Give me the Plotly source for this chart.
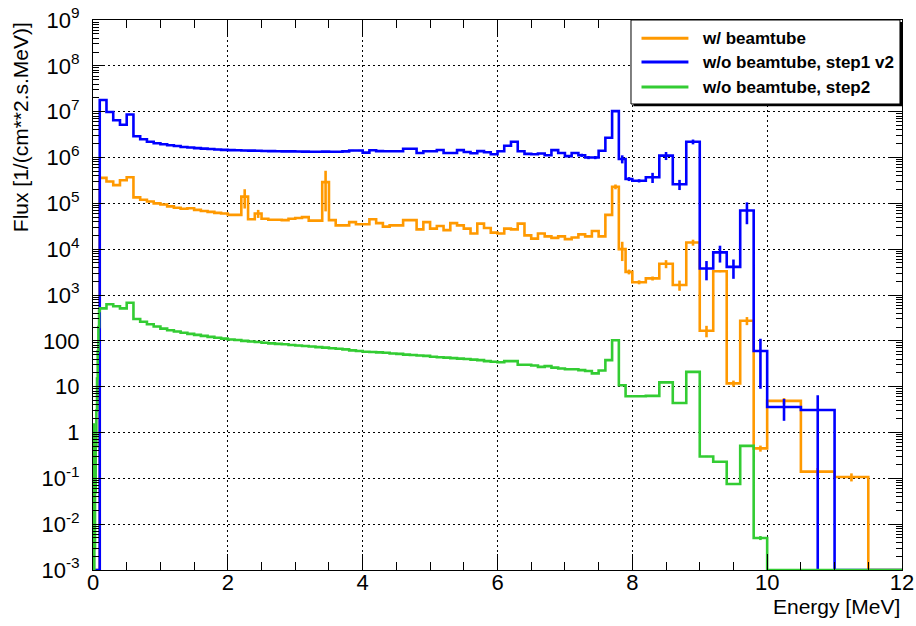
import plotly.graph_objects as go

# ---------------- data ----------------
# bin edges (MeV): fine 0.01 bins up to 0.1, 0.1 bins to 8, 0.2 bins to 10, 0.5 bins to 12
edges_fine = [round(0.01 * i, 2) for i in range(10)]
edges_mid = [round(0.1 + 0.1 * i, 2) for i in range(79)]
edges_coarse = [round(8.0 + 0.2 * i, 2) for i in range(10)]
edges_wide = [10.0, 10.5, 11.0, 11.5, 12.0]
edges = edges_fine + edges_mid + edges_coarse + edges_wide

# w/ beamtube (orange)
orange_fine = [0] * 10
orange_mid = [3.6e5, 3.0e5, 2.5e5, 3.2e5, 3.7e5,
              1.35e5, 1.2e5, 1.1e5, 1.0e5, 9.4e4,
              8.6e4, 8.0e4, 7.6e4, 7.8e4, 7.2e4,
              6.8e4, 6.5e4, 6.2e4, 6.0e4, 5.6e4,
              5.6e4, 1.4e5, 4.5e4, 6.0e4, 4.6e4,
              4.4e4, 4.4e4, 4.3e4, 4.6e4, 4.8e4,
              5.0e4, 4.2e4, 4.2e4, 2.9e5, 4.3e4,
              3.3e4, 3.3e4, 3.9e4, 3.5e4, 3.5e4,
              4.5e4, 3.7e4, 3.1e4, 3.3e4, 3.3e4,
              4.3e4, 4.3e4, 2.7e4, 3.9e4, 2.8e4,
              3.2e4, 2.6e4, 3.7e4, 3.3e4, 2.8e4,
              2.2e4, 3.6e4, 2.9e4, 2.3e4, 2.2e4,
              2.8e4, 2.7e4, 3.6e4, 2.0e4, 1.7e4,
              2.2e4, 1.9e4, 1.76e4, 1.9e4, 1.66e4,
              1.8e4, 2.1e4, 1.9e4, 2.5e4, 1.9e4,
              5.6e4, 2.3e5, 1.0e4, 3.2e3]
orange_coarse = [1.9e3, 2.3e3, 4.8e3, 1.65e3, 1.4e4, 166, 3.3e3, 11.8, 275, 0.45]
orange_wide = [4.9, 0.14, 0.107, 0]

# w/o beamtube, step1 v2 (blue)
blue_fine = [0] * 10
blue_mid = [1.8e7, 9.8e6, 6.5e6, 5.2e6, 8.7e6,
            2.9e6, 2.5e6, 2.2e6, 2.05e6, 1.95e6,
            1.85e6, 1.78e6, 1.7e6, 1.65e6, 1.6e6,
            1.56e6, 1.53e6, 1.5e6, 1.47e6, 1.45e6,
            1.44e6, 1.42e6, 1.41e6, 1.40e6, 1.39e6,
            1.38e6, 1.37e6, 1.36e6, 1.36e6, 1.35e6,
            1.34e6, 1.33e6, 1.33e6, 1.34e6, 1.33e6,
            1.33e6, 1.36e6, 1.42e6, 1.42e6, 1.28e6,
            1.44e6, 1.38e6, 1.37e6, 1.37e6, 1.37e6,
            1.55e6, 1.55e6, 1.25e6, 1.37e6, 1.37e6,
            1.46e6, 1.25e6, 1.25e6, 1.45e6, 1.32e6,
            1.24e6, 1.38e6, 1.30e6, 1.18e6, 1.37e6,
            1.8e6, 2.2e6, 1.37e6, 1.2e6, 1.18e6,
            1.22e6, 1.12e6, 1.45e6, 1.25e6, 1.07e6,
            1.25e6, 1.12e6, 1.0e6, 1.0e6, 1.4e6,
            2.7e6, 1.03e7, 9.3e5, 3.4e5]
blue_coarse = [3.1e5, 3.7e5, 1.1e6, 2.6e5, 2.2e6, 3.8e3, 8.5e3, 4.1e3, 7.0e4, 60]
blue_wide = [3.6, 3.1, 0, 0]

# w/o beamtube, step2 (green)
green_fine = [1.5, 0, 0.003, 0.05, 0.5, 3, 15, 60, 200, 450]
green_mid = [510, 630, 570, 510, 680,
             300, 260, 230, 205, 185,
             170, 160, 150, 142, 135,
             128, 122, 117, 112, 107,
             104, 100, 97, 94, 91,
             88, 86, 84, 81, 79,
             77, 75, 73, 71, 69,
             67, 65, 62, 60, 58,
             57, 56, 55, 53, 52,
             50, 49, 48, 47, 45,
             44, 43, 42, 41, 40,
             39, 38, 36, 35, 34,
             36, 36, 30, 30, 29,
             27, 28, 26, 25, 24,
             24, 23, 22, 19.5, 22.5,
             38, 103, 10.7, 6.2]
green_coarse = [6.2, 6.3, 12.4, 4.4, 21, 0.3, 0.23, 0.075, 0.51, 0.005]
green_wide = [0, 0, 0, 0]

# relative statistical errors (bin low edge -> rel. error)
orange_rel_err = {2.2: 0.45, 2.4: 0.2, 3.4: 0.77, 7.7: 0.12, 7.8: 0.45, 7.9: 0.12, 8.0: 0.1,
                  8.2: 0.1, 8.4: 0.2, 8.6: 0.25, 8.8: 0.15, 9.0: 0.28, 9.2: 0.05, 9.4: 0.15,
                  9.6: 0.2, 9.8: 0.15, 10.0: 0.15, 10.5: 0.2, 11.0: 0.2}
blue_rel_err = {7.2: 0.08, 7.3: 0.08, 7.4: 0.08, 7.8: 0.2, 7.9: 0.1, 8.0: 0.08, 8.2: 0.25,
                8.4: 0.2, 8.6: 0.25, 8.8: 0.12, 9.0: 0.45, 9.2: 0.4, 9.4: 0.45, 9.6: 0.5,
                9.8: 0.85, 10.0: 0.5, 10.5: 1.1}
green_rel_err = {9.8: 0.1}
default_rel_err = 0.03

names = ["w/ beamtube", "w/o beamtube, step1 v2", "w/o beamtube, step2"]
colors = ["#ff9900", "#0000ff", "#33cc33"]

y_tick_vals = [1e-3, 1e-2, 1e-1, 1, 10, 100, 1e3, 1e4, 1e5, 1e6, 1e7, 1e8, 1e9]
y_tick_text = ["10<sup>-3</sup>", "10<sup>-2</sup>", "10<sup>-1</sup>", "1", "10", "100",
               "10<sup>3</sup>", "10<sup>4</sup>", "10<sup>5</sup>", "10<sup>6</sup>",
               "10<sup>7</sup>", "10<sup>8</sup>", "10<sup>9</sup>"]
x_tick_vals = [0, 2, 4, 6, 8, 10, 12]
x_tick_text = ["0", "2", "4", "6", "8", "10", "12"]

# ---------------- figure ----------------
YMIN = 1e-3
LW = 2.6
FONT = "Liberation Sans, Arial, Helvetica, sans-serif"

series = [
    (orange_fine + orange_mid + orange_coarse + orange_wide, orange_rel_err),
    (blue_fine + blue_mid + blue_coarse + blue_wide, blue_rel_err),
    (green_fine + green_mid + green_coarse + green_wide, green_rel_err),
]

fig = go.Figure()
nb = len(edges) - 1
for (vals, rel), name, col in zip(series, names, colors):
    assert len(vals) == nb, (name, len(vals), nb)
    yv = [v if v > 0 else YMIN for v in vals]
    xs = [edges[0]] + edges
    ys = [YMIN] + yv + [yv[-1]]
    fig.add_trace(go.Scatter(x=xs, y=ys, mode="lines", name=name,
                             line=dict(color=col, width=LW, shape="hv"),
                             showlegend=False, hoverinfo="skip"))
    cx, cy, ep, em = [], [], [], []
    for i, v in enumerate(vals):
        if v <= 0:
            continue
        lo = edges[i]
        r = rel.get(round(lo, 2), default_rel_err)
        e = r * v
        cx.append(0.5 * (edges[i] + edges[i + 1]))
        cy.append(v)
        ep.append(e)
        em.append(min(e, v * (1 - 1e-7)))
    fig.add_trace(go.Scatter(x=cx, y=cy, mode="markers", name=name + " err",
                             marker=dict(size=1, color=col, opacity=0),
                             error_y=dict(type="data", symmetric=False, array=ep, arrayminus=em,
                                          width=0, thickness=LW, color=col),
                             showlegend=False, hoverinfo="skip"))

grid = dict(showgrid=True, gridcolor="black", gridwidth=1, griddash="2px,3px")
fig.update_xaxes(range=[0, 12], tickmode="array", tickvals=x_tick_vals, ticktext=x_tick_text,
                 ticks="inside", ticklen=16, tickwidth=1, tickcolor="black", automargin=False,
                 showline=True, linecolor="black", linewidth=1, mirror="ticks", zeroline=False,
                 tickfont=dict(size=22, family=FONT, color="black"), ticklabelstandoff=-7,
                 minor=dict(tickmode="array", tickvals=[0.5 * k for k in range(1, 24)],
                            ticks="inside", ticklen=8, tickwidth=1, tickcolor="black",
                            showgrid=False),
                 **grid)
fig.update_yaxes(type="log", range=[-3, 9], tickmode="array", tickvals=y_tick_vals,
                 ticktext=y_tick_text, ticks="inside", ticklen=12, tickwidth=1, tickcolor="black",
                 showline=True, linecolor="black", linewidth=1, mirror="ticks", zeroline=False,
                 automargin=False,
                 tickfont=dict(size=22, family=FONT, color="black"), ticklabelstandoff=8,
                 minor=dict(tickmode="array",
                            tickvals=[k * 10 ** d for d in range(-3, 9) for k in range(2, 10)],
                            ticks="inside", ticklen=6, tickwidth=1, tickcolor="black",
                            showgrid=False),
                 **grid)

# axis titles (ROOT style: aligned to the axis end)
annotations = [
    dict(text="Energy [MeV]", xref="paper", yref="paper", x=1.0, y=-0.066, xanchor="right",
         yanchor="middle", showarrow=False, font=dict(size=21, family=FONT, color="black")),
    dict(text="Flux [1/(cm**2.s.MeV)]", xref="paper", yref="paper", x=-0.09, y=1.0,
         xanchor="center", yanchor="top", textangle=-90, showarrow=False,
         font=dict(size=21, family=FONT, color="black")),
]

# legend box (ROOT TLegend look)
lx0, lx1, ly0, ly1 = 0.665, 0.9975, 0.8473, 1.0
shapes = [
    dict(type="rect", xref="paper", yref="paper", x0=lx0 + 0.003, x1=lx1 + 0.003,
         y0=ly0 - 0.004, y1=ly1 - 0.004, fillcolor="black", line=dict(width=0), layer="above"),
    dict(type="rect", xref="paper", yref="paper", x0=lx0, x1=lx1, y0=ly0, y1=ly1,
         fillcolor="white", line=dict(color="black", width=1), layer="above"),
]
row_y = [0.967, 0.9236, 0.878]
for name, col, yy in zip(names, colors, row_y):
    shapes.append(dict(type="line", xref="paper", yref="paper", x0=0.678, x1=0.736, y0=yy, y1=yy,
                       line=dict(color=col, width=3), layer="above"))
    annotations.append(dict(text="<b>" + name + "</b>", xref="paper", yref="paper", x=0.750,
                            y=yy, xanchor="left", yanchor="middle", showarrow=False,
                            font=dict(size=17, family=FONT, color="black")))

fig.update_layout(width=916, height=626, margin=dict(l=93, r=14, t=20, b=56, pad=0),
                  paper_bgcolor="white", plot_bgcolor="white", showlegend=False,
                  font=dict(family=FONT, color="black"),
                  shapes=shapes, annotations=annotations)

fig.write_html("out.html", config={"displayModeBar": False},
               post_script="document.body.style.margin='0';document.body.style.padding='0';")
